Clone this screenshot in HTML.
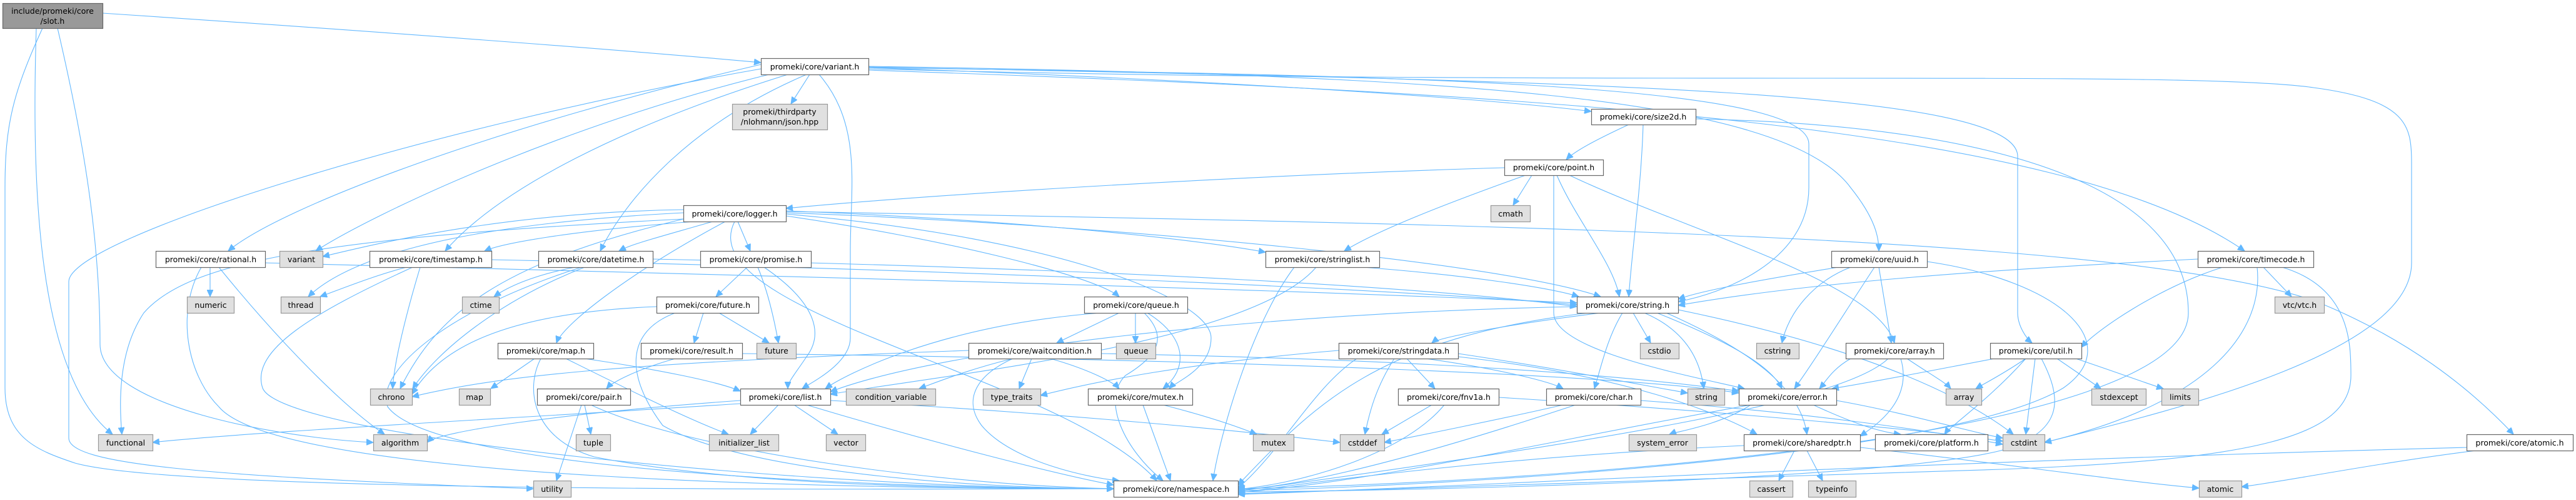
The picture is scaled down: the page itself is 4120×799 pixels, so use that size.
<!DOCTYPE html>
<html><head><meta charset="utf-8"><style>
html,body{margin:0;padding:0;background:#fff;}
svg{display:block;}
.e path{fill:none;stroke:#63b8ff;stroke-width:1.1;}
.n rect{fill:#fff;stroke:#666;stroke-width:1.2;}
.n rect.g{fill:#e0e0e0;stroke:#999;}
.n rect.r{fill:#999;stroke:#666;}
.n text{font-family:"DejaVu Sans","Liberation Sans",sans-serif;font-size:12.5px;fill:#000;text-anchor:middle;}
</style></head><body>
<svg width="4120" height="799" viewBox="0 0 4120 799" xmlns="http://www.w3.org/2000/svg">
<defs><marker id="a" markerUnits="userSpaceOnUse" markerWidth="12" markerHeight="10" refX="11" refY="5" orient="auto"><path d="M0,0 L11,5 L0,10 z" fill="#63b8ff" stroke="#63b8ff"/></marker></defs>
<g class="e" marker-end="url(#a)">
<path marker-end="url(#a)" d="M164 21 C600 50 1000 80 1217 100"/>
<path marker-end="url(#a)" d="M58 45 C50 300 60 600 180 694"/>
<path marker-end="url(#a)" d="M92 45 C140 250 160 400 160 550 C160 650 450 700 597 707"/>
<path marker-end="url(#a)" d="M68 45 C20 150 8 200 8 300 L8 620 C8 700 60 720 120 740 C300 790 1500 781 1781 781"/>
<path marker-end="url(#a)" d="M1217 110 C700 200 110 380 110 450 L110 700 C110 740 300 760 853 781"/>
<path marker-end="url(#a)" d="M1217 103 C800 200 450 330 365 401"/>
<path marker-end="url(#a)" d="M1230 119 C900 200 600 340 505 401"/>
<path marker-end="url(#a)" d="M1260 119 C1000 200 800 300 712 401"/>
<path marker-end="url(#a)" d="M1290 119 C1100 200 1000 320 960 401"/>
<path marker-end="url(#a)" d="M1295 119 L1265 166"/>
<path marker-end="url(#a)" d="M1310 119 C1380 200 1360 300 1360 400 L1360 540 C1360 580 1300 610 1283 621"/>
<path marker-end="url(#a)" d="M1389 108 C2000 130 2400 160 2545 178"/>
<path marker-end="url(#a)" d="M1389 108 C2200 120 2893 130 2893 230 L2893 300 C2893 420 2750 470 2684 482"/>
<path marker-end="url(#a)" d="M1389 106 C2300 120 2850 150 2960 300 C3000 350 3005 380 3005 401"/>
<path marker-end="url(#a)" d="M1389 107 C2500 130 3227 140 3227 250 L3227 500 C3227 520 3240 540 3250 548"/>
<path marker-end="url(#a)" d="M1389 112 C2500 150 3300 200 3590 401"/>
<path marker-end="url(#a)" d="M1389 110 C2500 140 3500 110 3700 140 C3850 160 3857 200 3857 260 L3857 420 C3857 560 3500 650 3270 707"/>
<path marker-end="url(#a)" d="M1093 335 C800 340 600 390 516 410"/>
<path marker-end="url(#a)" d="M1093 340 C700 360 550 420 493 474"/>
<path marker-end="url(#a)" d="M1110 354 C900 370 800 390 775 401"/>
<path marker-end="url(#a)" d="M1140 354 C1050 380 1010 390 990 401"/>
<path marker-end="url(#a)" d="M1180 354 L1200 401"/>
<path marker-end="url(#a)" d="M1160 354 C1000 440 900 520 890 548"/>
<path marker-end="url(#a)" d="M1093 350 C500 380 300 420 230 500 C190 560 190 640 195 694"/>
<path marker-end="url(#a)" d="M1093 350 C800 420 700 500 640 621"/>
<path marker-end="url(#a)" d="M1257 345 C1500 380 1750 440 1790 474"/>
<path marker-end="url(#a)" d="M1257 340 C1800 360 2400 420 2560 474"/>
<path marker-end="url(#a)" d="M1257 337 C1600 350 1900 380 2024 403"/>
<path marker-end="url(#a)" d="M1257 342 C1700 380 1937 480 1937 540 C1937 590 1880 610 1870 621"/>
<path marker-end="url(#a)" d="M1257 338 C2500 360 3400 380 3700 480 C3850 540 3950 620 4020 694"/>
<path marker-end="url(#a)" d="M1175 354 C1100 500 1700 600 1850 768"/>
<path marker-end="url(#a)" d="M2406 268 C2000 280 1500 310 1257 333"/>
<path marker-end="url(#a)" d="M2450 280 L2420 328"/>
<path marker-end="url(#a)" d="M2440 280 C2300 330 2200 370 2150 401"/>
<path marker-end="url(#a)" d="M2490 280 C2520 350 2580 420 2590 474"/>
<path marker-end="url(#a)" d="M2510 280 C2700 370 3000 450 3030 548"/>
<path marker-end="url(#a)" d="M2485 280 L2485 500 C2485 560 2700 600 2790 621"/>
<path marker-end="url(#a)" d="M2605 199 C2560 220 2520 240 2505 255"/>
<path marker-end="url(#a)" d="M2628 199 C2625 300 2610 400 2605 474"/>
<path marker-end="url(#a)" d="M2712 190 C3200 200 3500 300 3500 500 C3500 700 2500 770 1980 781"/>
<path marker-end="url(#a)" d="M336 427 L336 474"/>
<path marker-end="url(#a)" d="M350 427 C450 550 550 650 615 694"/>
<path marker-end="url(#a)" d="M322 427 C280 500 300 600 350 650 C450 770 1400 781 1781 781"/>
<path marker-end="url(#a)" d="M424 420 C1200 440 2000 460 2522 484"/>
<path marker-end="url(#a)" d="M650 427 C600 440 550 460 512 474"/>
<path marker-end="url(#a)" d="M672 427 C650 500 630 580 628 621"/>
<path marker-end="url(#a)" d="M660 427 C500 500 400 560 420 620 C450 700 1300 781 1781 781"/>
<path marker-end="url(#a)" d="M786 415 C1500 430 2200 460 2522 487"/>
<path marker-end="url(#a)" d="M920 427 C850 440 810 460 790 474"/>
<path marker-end="url(#a)" d="M935 427 C800 480 700 560 660 621"/>
<path marker-end="url(#a)" d="M1044 414 C1800 430 2300 460 2522 490"/>
<path marker-end="url(#a)" d="M930 427 C700 500 600 600 620 650 C700 760 1500 781 1781 781"/>
<path marker-end="url(#a)" d="M1195 427 L1145 474"/>
<path marker-end="url(#a)" d="M1212 427 C1230 470 1240 520 1245 548"/>
<path marker-end="url(#a)" d="M1222 427 C1300 480 1320 530 1290 570 C1270 600 1260 610 1260 621"/>
<path marker-end="url(#a)" d="M1125 500 L1110 548"/>
<path marker-end="url(#a)" d="M1150 500 L1230 548"/>
<path marker-end="url(#a)" d="M1080 500 C1000 530 1000 600 1060 680 C1200 760 1600 781 1781 781"/>
<path marker-end="url(#a)" d="M1050 490 C800 500 700 560 659 630"/>
<path marker-end="url(#a)" d="M1080 573 C1020 590 980 610 970 621"/>
<path marker-end="url(#a)" d="M1187 565 C2000 575 2600 600 2781 628"/>
<path marker-end="url(#a)" d="M855 573 L785 621"/>
<path marker-end="url(#a)" d="M935 573 C1050 590 1150 610 1184 625"/>
<path marker-end="url(#a)" d="M905 573 C1000 620 1100 670 1165 694"/>
<path marker-end="url(#a)" d="M865 573 C840 620 850 700 950 730 C1200 780 1600 781 1781 781"/>
<path marker-end="url(#a)" d="M935 647 L945 694"/>
<path marker-end="url(#a)" d="M930 647 L890 768"/>
<path marker-end="url(#a)" d="M945 647 C1100 720 1500 775 1781 781"/>
<path marker-end="url(#a)" d="M1245 647 L1200 694"/>
<path marker-end="url(#a)" d="M1270 647 L1340 694"/>
<path marker-end="url(#a)" d="M1184 640 C900 660 700 690 683 707"/>
<path marker-end="url(#a)" d="M1184 645 C800 670 400 690 244 707"/>
<path marker-end="url(#a)" d="M1290 647 C1500 710 1700 760 1781 775"/>
<path marker-end="url(#a)" d="M1328 640 C1700 660 2000 690 2143 707"/>
<path marker-end="url(#a)" d="M1790 500 L1690 548"/>
<path marker-end="url(#a)" d="M1816 500 L1816 548"/>
<path marker-end="url(#a)" d="M1835 500 C1900 540 1900 590 1860 621"/>
<path marker-end="url(#a)" d="M1760 500 C1500 520 1350 600 1320 621"/>
<path marker-end="url(#a)" d="M1830 500 C1870 540 1850 570 1800 600 C1760 640 1800 720 1860 768"/>
<path marker-end="url(#a)" d="M1620 573 C1550 590 1500 610 1470 621"/>
<path marker-end="url(#a)" d="M1650 573 L1630 621"/>
<path marker-end="url(#a)" d="M1680 573 C1740 590 1780 610 1790 621"/>
<path marker-end="url(#a)" d="M1620 573 C1560 600 1540 640 1570 680 C1620 740 1750 765 1790 768"/>
<path marker-end="url(#a)" d="M1549 560 C1000 580 800 600 659 634"/>
<path marker-end="url(#a)" d="M1761 565 C2300 575 2600 600 2781 625"/>
<path marker-end="url(#a)" d="M1860 647 C1950 670 2000 690 2010 694"/>
<path marker-end="url(#a)" d="M1828 647 L1872 768"/>
<path marker-end="url(#a)" d="M2180 427 C2350 440 2480 460 2525 474"/>
<path marker-end="url(#a)" d="M2105 427 C2000 550 1500 600 1328 630"/>
<path marker-end="url(#a)" d="M2070 427 C2000 520 1950 700 1940 768"/>
<path marker-end="url(#a)" d="M2560 500 C2400 520 2300 540 2290 548"/>
<path marker-end="url(#a)" d="M2612 500 L2640 548"/>
<path marker-end="url(#a)" d="M2595 500 C2570 540 2560 590 2550 621"/>
<path marker-end="url(#a)" d="M2630 500 C2700 530 2720 580 2725 621"/>
<path marker-end="url(#a)" d="M2540 500 C2200 540 2100 650 1980 775"/>
<path marker-end="url(#a)" d="M2650 500 C2750 540 2830 580 2850 621"/>
<path marker-end="url(#a)" d="M2665 500 C2800 560 2880 620 2890 694"/>
<path marker-end="url(#a)" d="M2522 490 C2000 500 1500 560 1328 626"/>
<path marker-end="url(#a)" d="M2684 495 C3000 560 3150 640 3220 694"/>
<path marker-end="url(#a)" d="M2250 573 L2295 621"/>
<path marker-end="url(#a)" d="M2280 573 C2400 590 2480 610 2500 621"/>
<path marker-end="url(#a)" d="M2230 573 C2200 620 2190 660 2183 694"/>
<path marker-end="url(#a)" d="M2332 565 C2500 590 2650 620 2699 628"/>
<path marker-end="url(#a)" d="M2170 573 C2100 620 2050 720 1980 780"/>
<path marker-end="url(#a)" d="M2332 570 C2600 600 2750 660 2810 694"/>
<path marker-end="url(#a)" d="M2141 560 C1900 580 1750 610 1664 632"/>
<path marker-end="url(#a)" d="M2290 647 L2210 694"/>
<path marker-end="url(#a)" d="M2310 647 C2250 720 2100 770 1980 782"/>
<path marker-end="url(#a)" d="M2397 635 C2800 660 3100 690 3203 705"/>
<path marker-end="url(#a)" d="M2500 647 C2400 670 2250 700 2214 707"/>
<path marker-end="url(#a)" d="M2520 647 C2300 720 2100 775 1980 783"/>
<path marker-end="url(#a)" d="M2624 640 C2900 660 3100 690 3203 710"/>
<path marker-end="url(#a)" d="M2960 427 C2900 450 2860 500 2850 548"/>
<path marker-end="url(#a)" d="M3005 427 L3025 548"/>
<path marker-end="url(#a)" d="M2998 427 C2950 500 2900 580 2870 621"/>
<path marker-end="url(#a)" d="M2940 427 C2800 450 2720 465 2684 478"/>
<path marker-end="url(#a)" d="M3082 418 C3300 450 3400 550 3300 620 C3100 740 2200 780 1980 784"/>
<path marker-end="url(#a)" d="M3050 573 C3090 600 3110 610 3120 621"/>
<path marker-end="url(#a)" d="M2960 573 C2930 590 2920 610 2910 621"/>
<path marker-end="url(#a)" d="M3040 573 C3060 640 3000 680 2975 697"/>
<path marker-end="url(#a)" d="M3020 573 C2950 640 2600 700 1980 785"/>
<path marker-end="url(#a)" d="M3190 573 C3100 590 3000 610 2930 621"/>
<path marker-end="url(#a)" d="M3240 573 C3200 600 3170 615 3160 621"/>
<path marker-end="url(#a)" d="M3290 573 L3360 621"/>
<path marker-end="url(#a)" d="M3320 573 C3400 600 3440 615 3460 621"/>
<path marker-end="url(#a)" d="M3255 573 L3240 694"/>
<path marker-end="url(#a)" d="M3240 573 C3180 640 3120 680 3110 694"/>
<path marker-end="url(#a)" d="M3265 573 C3300 640 3300 690 3200 720 C3000 770 2200 785 1980 786"/>
<path marker-end="url(#a)" d="M2800 647 C2750 680 2680 690 2670 694"/>
<path marker-end="url(#a)" d="M2900 647 C2950 670 3000 690 3040 694"/>
<path marker-end="url(#a)" d="M2800 647 C2500 700 2200 770 1980 787"/>
<path marker-end="url(#a)" d="M2937 640 C3050 660 3150 690 3203 700"/>
<path marker-end="url(#a)" d="M2870 720 L2845 768"/>
<path marker-end="url(#a)" d="M2890 720 L2915 768"/>
<path marker-end="url(#a)" d="M2789 712 C2400 730 2100 770 1980 788"/>
<path marker-end="url(#a)" d="M2975 715 C3200 740 3400 770 3517 780"/>
<path marker-end="url(#a)" d="M3620 427 L3665 474"/>
<path marker-end="url(#a)" d="M3515 414 C3200 430 2900 450 2684 488"/>
<path marker-end="url(#a)" d="M3555 427 C3450 460 3350 530 3329 555"/>
<path marker-end="url(#a)" d="M3650 427 C3760 460 3760 550 3760 600 C3760 700 3600 735 3200 750 C2600 770 2200 785 1980 789"/>
<path marker-end="url(#a)" d="M3610 427 C3620 520 3550 640 3270 707"/>
<path marker-end="url(#a)" d="M3960 720 C3800 740 3650 770 3585 778"/>
<path marker-end="url(#a)" d="M3945 715 C3000 740 2300 780 1980 790"/>
</g>
<g class="n">
<rect class="r" x="4.5" y="5.5" width="160" height="40"/><text x="84" y="22">include/promeki/core</text><text x="84" y="38">/slot.h</text>
<rect x="1217.5" y="93.5" width="172" height="26"/><text x="1303" y="111">promeki/core/variant.h</text>
<rect class="g" x="1171.5" y="166.5" width="152" height="41"/><text x="1247" y="183">promeki/thirdparty</text><text x="1247" y="199">/nlohmann/json.hpp</text>
<rect x="2545.5" y="174.5" width="167" height="25"/><text x="2628" y="191">promeki/core/size2d.h</text>
<rect x="2406.5" y="255.5" width="158" height="25"/><text x="2485" y="272">promeki/core/point.h</text>
<rect x="1093.5" y="328.5" width="164" height="26"/><text x="1175" y="346">promeki/core/logger.h</text>
<rect class="g" x="2384.5" y="328.5" width="63" height="26"/><text x="2416" y="346">cmath</text>
<rect x="249.5" y="401.5" width="175" height="26"/><text x="337" y="419">promeki/core/rational.h</text>
<rect class="g" x="447.5" y="401.5" width="69" height="26"/><text x="482" y="419">variant</text>
<rect x="591.5" y="401.5" width="195" height="26"/><text x="689" y="419">promeki/core/timestamp.h</text>
<rect x="861.5" y="401.5" width="183" height="26"/><text x="953" y="419">promeki/core/datetime.h</text>
<rect x="1120.5" y="401.5" width="177" height="26"/><text x="1209" y="419">promeki/core/promise.h</text>
<rect x="2024.5" y="401.5" width="182" height="26"/><text x="2115" y="419">promeki/core/stringlist.h</text>
<rect x="2929.5" y="401.5" width="153" height="26"/><text x="3006" y="419">promeki/core/uuid.h</text>
<rect x="3515.5" y="401.5" width="185" height="26"/><text x="3608" y="419">promeki/core/timecode.h</text>
<rect class="g" x="299.5" y="474.5" width="75" height="26"/><text x="337" y="492">numeric</text>
<rect class="g" x="449.5" y="474.5" width="63" height="26"/><text x="481" y="492">thread</text>
<rect class="g" x="739.5" y="474.5" width="59" height="26"/><text x="769" y="492">ctime</text>
<rect x="1050.5" y="474.5" width="163" height="26"/><text x="1132" y="492">promeki/core/future.h</text>
<rect x="1734.5" y="474.5" width="165" height="26"/><text x="1817" y="492">promeki/core/queue.h</text>
<rect x="2522.5" y="474.5" width="162" height="26"/><text x="2603" y="492">promeki/core/string.h</text>
<rect class="g" x="3638.5" y="474.5" width="79" height="26"/><text x="3678" y="492">vtc/vtc.h</text>
<rect x="796.5" y="548.5" width="153" height="25"/><text x="873" y="565">promeki/core/map.h</text>
<rect x="1025.5" y="548.5" width="162" height="25"/><text x="1106" y="565">promeki/core/result.h</text>
<rect class="g" x="1210.5" y="548.5" width="63" height="25"/><text x="1242" y="565">future</text>
<rect x="1549.5" y="548.5" width="212" height="25"/><text x="1655" y="565">promeki/core/waitcondition.h</text>
<rect class="g" x="1785.5" y="548.5" width="63" height="25"/><text x="1817" y="565">queue</text>
<rect x="2141.5" y="548.5" width="191" height="25"/><text x="2237" y="565">promeki/core/stringdata.h</text>
<rect class="g" x="2623.5" y="548.5" width="62" height="25"/><text x="2654" y="565">cstdio</text>
<rect class="g" x="2809.5" y="548.5" width="68" height="25"/><text x="2843" y="565">cstring</text>
<rect x="2952.5" y="548.5" width="156" height="25"/><text x="3030" y="565">promeki/core/array.h</text>
<rect x="3183.5" y="548.5" width="146" height="25"/><text x="3256" y="565">promeki/core/util.h</text>
<rect class="g" x="592.5" y="621.5" width="67" height="26"/><text x="626" y="639">chrono</text>
<rect class="g" x="734.5" y="621.5" width="50" height="26"/><text x="759" y="639">map</text>
<rect x="859.5" y="621.5" width="149" height="26"/><text x="934" y="639">promeki/core/pair.h</text>
<rect x="1184.5" y="621.5" width="144" height="26"/><text x="1256" y="639">promeki/core/list.h</text>
<rect class="g" x="1353.5" y="621.5" width="143" height="26"/><text x="1425" y="639">condition_variable</text>
<rect class="g" x="1572.5" y="621.5" width="92" height="26"/><text x="1618" y="639">type_traits</text>
<rect x="1740.5" y="621.5" width="167" height="26"/><text x="1824" y="639">promeki/core/mutex.h</text>
<rect x="2236.5" y="621.5" width="161" height="26"/><text x="2317" y="639">promeki/core/fnv1a.h</text>
<rect x="2473.5" y="621.5" width="151" height="26"/><text x="2549" y="639">promeki/core/char.h</text>
<rect class="g" x="2699.5" y="621.5" width="59" height="26"/><text x="2729" y="639">string</text>
<rect x="2781.5" y="621.5" width="156" height="26"/><text x="2859" y="639">promeki/core/error.h</text>
<rect class="g" x="3112.5" y="621.5" width="57" height="26"/><text x="3141" y="639">array</text>
<rect class="g" x="3345.5" y="621.5" width="87" height="26"/><text x="3389" y="639">stdexcept</text>
<rect class="g" x="3457.5" y="621.5" width="59" height="26"/><text x="3487" y="639">limits</text>
<rect class="g" x="157.5" y="694.5" width="87" height="26"/><text x="201" y="712">functional</text>
<rect class="g" x="597.5" y="694.5" width="86" height="26"/><text x="640" y="712">algorithm</text>
<rect class="g" x="921.5" y="694.5" width="55" height="26"/><text x="949" y="712">tuple</text>
<rect class="g" x="1134.5" y="694.5" width="111" height="26"/><text x="1190" y="712">initializer_list</text>
<rect class="g" x="1321.5" y="694.5" width="63" height="26"/><text x="1353" y="712">vector</text>
<rect class="g" x="2004.5" y="694.5" width="65" height="26"/><text x="2037" y="712">mutex</text>
<rect class="g" x="2143.5" y="694.5" width="71" height="26"/><text x="2179" y="712">cstddef</text>
<rect class="g" x="2605.5" y="694.5" width="108" height="26"/><text x="2659" y="712">system_error</text>
<rect x="2789.5" y="694.5" width="186" height="26"/><text x="2882" y="712">promeki/core/sharedptr.h</text>
<rect x="2999.5" y="694.5" width="180" height="26"/><text x="3089" y="712">promeki/core/platform.h</text>
<rect class="g" x="3203.5" y="694.5" width="67" height="26"/><text x="3237" y="712">cstdint</text>
<rect x="3945.5" y="694.5" width="170" height="26"/><text x="4030" y="712">promeki/core/atomic.h</text>
<rect class="g" x="853.5" y="768.5" width="60" height="26"/><text x="883" y="786">utility</text>
<rect x="1781.5" y="768.5" width="199" height="26"/><text x="1881" y="786">promeki/core/namespace.h</text>
<rect class="g" x="2798.5" y="768.5" width="69" height="26"/><text x="2833" y="786">cassert</text>
<rect class="g" x="2892.5" y="768.5" width="76" height="26"/><text x="2930" y="786">typeinfo</text>
<rect class="g" x="3517.5" y="768.5" width="68" height="26"/><text x="3551" y="786">atomic</text>
</g>
</svg>
</body></html>
